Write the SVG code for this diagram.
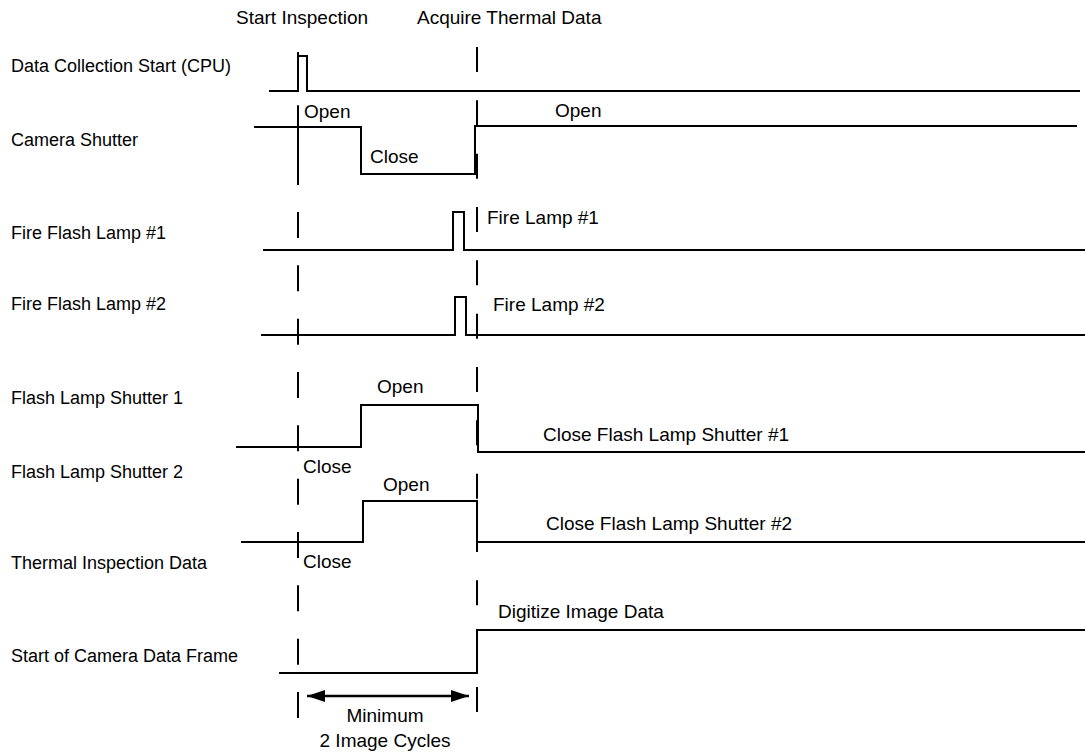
<svg xmlns="http://www.w3.org/2000/svg" width="1085" height="752" viewBox="0 0 1085 752">
<style>
text{font-family:"Liberation Sans",Arial,sans-serif;font-size:19px;fill:#000}
text.lbl{font-size:18px}
.sig{fill:none;stroke:#000;stroke-width:2;stroke-linejoin:miter}
.dash{fill:none;stroke:#000;stroke-width:2}
.mid{text-anchor:middle}
</style>
<defs>
<marker id="ah" viewBox="0 0 18 12" refX="18" refY="6" markerWidth="18" markerHeight="12" markerUnits="userSpaceOnUse" orient="auto-start-reverse">
<path d="M0,0 L18,6 L0,12 Z" fill="#000"/>
</marker>
</defs>
<rect width="1085" height="752" fill="#fff"/>

<g id="markers">
<text x="236" y="24">Start Inspection</text>
<text x="417" y="24">Acquire Thermal Data</text>
<line class="dash" x1="298" y1="52" x2="298" y2="718" stroke-dasharray="26 27.33"/>
<line class="dash" x1="298" y1="106" x2="298" y2="185"/>
<line class="dash" x1="477" y1="47" x2="477" y2="712" stroke-dasharray="25 28.33"/>
</g>

<g id="sig-cpu">
<text class="lbl" x="11" y="72">Data Collection Start (CPU)</text>
<polyline class="sig" points="269,91 298,91 298,56 307,56 307,91 1080,91"/>
</g>

<g id="sig-camera-shutter">
<text class="lbl" x="11" y="146">Camera Shutter</text>
<polyline class="sig" points="254,127 361,127 361,174 475,174 475,126 1077,126"/>
<text x="304" y="118">Open</text>
<text x="370" y="163">Close</text>
<text x="555" y="117">Open</text>
</g>

<g id="sig-lamp1">
<text class="lbl" x="11" y="239">Fire Flash Lamp #1</text>
<polyline class="sig" points="263,250 453,250 453,212 464,212 464,250 1085,250"/>
<text x="487" y="224">Fire Lamp #1</text>
</g>

<g id="sig-lamp2">
<text class="lbl" x="11" y="310">Fire Flash Lamp #2</text>
<polyline class="sig" points="261,335 455,335 455,297 466,297 466,335 1085,335"/>
<text x="493" y="311">Fire Lamp #2</text>
</g>

<g id="sig-fls1">
<text class="lbl" x="11" y="404">Flash Lamp Shutter 1</text>
<polyline class="sig" points="236,447 361,447 361,405 478,405 478,452 1085,452"/>
<text x="377" y="393">Open</text>
<text x="543" y="441">Close Flash Lamp Shutter #1</text>
<text x="303" y="473">Close</text>
</g>

<g id="sig-fls2">
<text class="lbl" x="11" y="478">Flash Lamp Shutter 2</text>
<polyline class="sig" points="241,542 363,542 363,501 477,501 477,542 1085,542"/>
<text x="383" y="491">Open</text>
<text x="546" y="530">Close Flash Lamp Shutter #2</text>
<text x="303" y="568">Close</text>
</g>

<g id="sig-thermal">
<text class="lbl" x="11" y="569">Thermal Inspection Data</text>
</g>

<g id="sig-frame">
<text class="lbl" x="11" y="662">Start of Camera Data Frame</text>
<polyline class="sig" points="279,673 477,673 477,630 1085,630"/>
<text x="498" y="618">Digitize Image Data</text>
</g>

<g id="connectors">
<line x1="307" y1="696" x2="469" y2="696" stroke="#000" stroke-width="2.5" marker-start="url(#ah)" marker-end="url(#ah)"/>
</g>
<g id="cycle-label">
<text class="mid" x="385" y="722">Minimum</text>
<text class="mid" x="385" y="747">2 Image Cycles</text>
</g>
</svg>
